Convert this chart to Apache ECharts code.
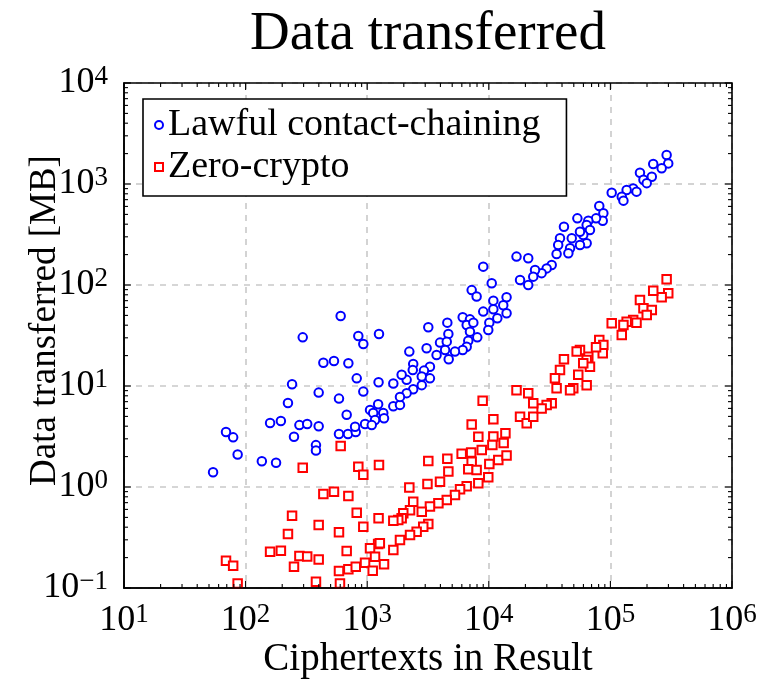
<!DOCTYPE html>
<html>
<head>
<meta charset="utf-8">
<script src="https://cdn.jsdelivr.net/npm/echarts@6/dist/echarts.min.js"></script>
<style>html,body{margin:0;padding:0;background:#fff;}#c{width:772px;height:680px;}</style>
</head>
<body>
<div id="c"></div>
<script>
// ---- data ----
const seriesNames = ['Lawful contact-chaining', 'Zero-crypto'];
const xTickValues = [10, 100, 1000, 10000, 100000, 1000000];
const yTickValues = [0.1, 1, 10, 100, 1000, 10000];

const blueX = [605,295,845,1250,929,436,533,700,820,1240,241,399,929,586,223,1230,1055,678,159,195,277,321,399,69,79,250,586,695,805,795,960,379,379,86,136,178,54,1640,1860,1120,1355,1160,1375,1090,
18070,21100,10570,7230,7940,14000,10900,13150,14000,9000,10900,11750,10100,9900,6100,7000,6580,7460,4560,3180,4650,7000,8040,3970,4510,6780,6580,6100,5270,4370,4680,2220,3080,3720,3280,2930,2810,2390,2370,2110,1920,3280,2810,2390,2110,1860,1640,
290000,299000,264000,225000,175000,187000,219000,199000,154000,136000,164000,124000,128000,102500,81000,87500,86500,76200,65800,63800,67900,59800,63800,56200,53500,41500,56200,48100,46600,45100,38500,37200,36100,32900,29900,27200,24000,23200,21100,16900,9000];
const blueY = [49.3,30.3,31.3,32.7,26.1,17.0,17.7,16.8,11.9,10.9,10.4,8.6,8.8,7.5,6.8,6.6,5.8,5.2,4.3,4.5,4.1,4.2,4.0,3.5,3.1,3.15,3.35,3.35,3.5,3.95,4.2,2.6,2.3,2.1,1.8,1.74,1.4,6.3,6.5,5.4,5.4,4.6,4.8,4.1,
112,100,104,89,77,75.5,70,63,52.5,54.5,57.5,46.8,42.4,35.8,47.9,45.7,40.2,42.4,42.4,38.1,32.7,34.5,30.3,26.9,27.5,28.1,24.5,22.7,21.9,22.7,18.4,21.9,23.6,20.3,15.5,14.2,12.4,16.5,14.4,11.5,12.9,11.9,10.2,9.3,8.5,7.8,10.6,
1940,1600,1430,1580,1290,1100,1180,1020,905,873,840,748,684,820,605,513,433,457,433,393,351,313,259,249,457,378,337,290,231,206,290,249,203,158,146,131,141,121,184,191,152];

const redX = [605,295,845,1250,929,436,533,700,820,1240,241,399,929,586,223,1230,1055,678,159,195,277,321,399,69,79,250,586,700,805,960,1110,379,86,597,1270,1160,1375,1860,1640,
8900,10900,7230,18070,20500,23200,8200,10900,13700,13250,10700,5980,7160,8750,7230,6780,10100,11970,14000,4560,3180,4650,7940,3970,3130,2220,9900,8200,6580,5800,5270,4510,3850,3280,2390,2250,1980,1920,1800,2810,3180,2890,2550,2250,1640,
290000,299000,264000,225000,175000,187000,219000,199000,154000,136000,164000,124000,128000,102500,81000,87500,86500,76200,65800,63800,67900,59800,56200,52800,41500,54400,63800,49500,46600,38500,35000,36100,32900,29900,27200,23200,21100,16900];
const redY = [2.55,1.55,1.59,1.65,1.32,0.853,0.897,0.815,0.557,0.49,0.52,0.42,0.405,0.356,0.343,0.273,0.247,0.232,0.229,0.234,0.207,0.205,0.192,0.186,0.166,0.162,0.147,0.153,0.162,0.178,0.148,0.115,0.111,0.111,0.277,0.204,0.172,0.299,0.238,
7.15,4.68,4.16,4.97,4.27,4.97,3.15,3.17,3.4,2.73,2.61,2.14,2.2,2.32,1.78,1.50,1.69,1.85,2.05,1.90,1.81,1.42,1.47,1.13,1.07,0.99,1.25,1.09,1.02,0.95,0.834,0.743,0.69,0.64,0.715,0.59,0.55,0.49,0.47,0.57,0.43,0.405,0.36,0.335,0.463,
114,82.8,75.5,87.9,71,58.7,56.5,50.5,45,43.3,42.4,32,40.2,41.8,28.5,25.5,21.1,24.2,19.5,18.1,15.5,16.8,22.7,21.9,18.4,12.9,10.2,9.5,9.1,14.4,11.9,9.5,6.75,6.5,6.0,6.75,8.5,9.1];

// ---- helpers ----
function pairs(xs, ys) { return xs.map((x, i) => [x, ys[i]]); }
function minorTicks(majors) {
  const out = [];
  for (let i = 0; i < majors.length - 1; i++) for (let m = 2; m <= 9; m++) out.push(+(majors[i] * m).toPrecision(3));
  return out;
}
const FONT = '"Liberation Serif", "DejaVu Serif", serif';
function expLabel(v) {
  const e = Math.round(Math.log10(v));
  const s = e < 0 ? '\u2212' + (-e) : String(e);
  return '{b|10}{s|' + s + '}';
}
const richLabel = {
  b: { fontFamily: FONT, fontSize: 36, color: '#000', lineHeight: 40 },
  s: { fontFamily: FONT, fontSize: 27, color: '#000', verticalAlign: 'top', lineHeight: 40, padding: [0, 0, 14, 0] }
};
const xMin = 10, xMax = 1000000, yMin = 0.1, yMax = 10000;
const MAJOR_LEN = 7, MINOR_LEN = 4;

const chart = echarts.init(document.getElementById('c'), null, { renderer: 'canvas' });
chart.setOption({
  animation: false,
  backgroundColor: '#fff',
  title: {
    text: 'Data transferred', left: 428, top: 7, padding: 0, textAlign: 'center',
    textStyle: { fontFamily: FONT, fontSize: 55, fontWeight: 'normal', color: '#000' }
  },
  grid: { left: 124, right: 40, top: 83, bottom: 92, containLabel: false, outerBoundsMode: 'none' },
  legend: {
    orient: 'vertical', left: 143, top: 99, z: 20,
    padding: [5, 26, 8, 11], itemGap: 0, itemWidth: 8, itemHeight: 8,
    backgroundColor: '#fff', borderColor: '#000', borderWidth: 1.6,
    textStyle: { fontFamily: FONT, fontSize: 38, color: '#000', lineHeight: 42 },
    data: seriesNames
  },
  xAxis: {
    type: 'log', logBase: 10, min: xMin, max: xMax, position: 'bottom',
    name: 'Ciphertexts in Result', nameLocation: 'middle', nameGap: 52, nameMoveOverlap: false,
    nameTextStyle: { fontFamily: FONT, fontSize: 39, color: '#000' },
    axisLine: { show: true, onZero: false, lineStyle: { color: '#000', width: 1.6 } },
    axisTick: { show: false },
    axisLabel: { show: true, customValues: xTickValues, formatter: expLabel, rich: richLabel, margin: 13 },
    splitLine: { show: true, lineStyle: { color: '#c9c9c9', width: 1.6, type: [6, 6] } }
  },
  yAxis: {
    type: 'log', logBase: 10, min: yMin, max: yMax, position: 'left',
    name: 'Data transferred [MB]', nameLocation: 'middle', nameGap: 60, nameMoveOverlap: false,
    nameTextStyle: { fontFamily: FONT, fontSize: 37, color: '#000', padding: [0, 0, 0, 30] },
    axisLine: { show: true, onZero: false, lineStyle: { color: '#000', width: 1.6 } },
    axisTick: { show: false },
    axisLabel: { show: true, customValues: yTickValues, formatter: expLabel, rich: richLabel, margin: 16 },
    splitLine: { show: true, lineStyle: { color: '#c9c9c9', width: 1.6, type: [6, 6] } }
  },
  series: [
    {
      name: seriesNames[0], type: 'scatter',
      symbol: 'emptyCircle', symbolSize: 8.5,
      itemStyle: { color: '#0000ff', borderColor: '#0000ff', borderWidth: 1.5, opacity: 1 },
      data: pairs(blueX, blueY), clip: true
    },
    {
      name: seriesNames[1], type: 'scatter',
      symbol: 'emptyRect', symbolSize: 8.5,
      itemStyle: { color: '#ff0000', borderColor: '#ff0000', borderWidth: 1.5, opacity: 1 },
      data: pairs(redX, redY), clip: true
    }
  ]
});

// frame and inward tick marks on all four sides, positioned through the chart's own log scales
const toPx = (p) => chart.convertToPixel({ gridIndex: 0 }, p);
const bl = toPx([xMin, yMin]), tr = toPx([xMax, yMax]);
const tickStyle = { stroke: '#000', lineWidth: 1.1 };
const els = [{
  type: 'rect', z: 10, silent: true,
  shape: { x: bl[0], y: tr[1], width: tr[0] - bl[0], height: bl[1] - tr[1] },
  style: { fill: null, stroke: '#000', lineWidth: 1.6 }
}];
function addXTick(v, len) {
  const x = toPx([v, yMin])[0];
  els.push({ type: 'line', z: 10, silent: true, shape: { x1: x, y1: bl[1], x2: x, y2: bl[1] - len }, style: tickStyle });
  els.push({ type: 'line', z: 10, silent: true, shape: { x1: x, y1: tr[1], x2: x, y2: tr[1] + len }, style: tickStyle });
}
function addYTick(v, len) {
  const y = toPx([xMin, v])[1];
  els.push({ type: 'line', z: 10, silent: true, shape: { x1: bl[0], y1: y, x2: bl[0] + len, y2: y }, style: tickStyle });
  els.push({ type: 'line', z: 10, silent: true, shape: { x1: tr[0], y1: y, x2: tr[0] - len, y2: y }, style: tickStyle });
}
xTickValues.forEach(v => addXTick(v, MAJOR_LEN));
minorTicks(xTickValues).forEach(v => addXTick(v, MINOR_LEN));
yTickValues.forEach(v => addYTick(v, MAJOR_LEN));
minorTicks(yTickValues).forEach(v => addYTick(v, MINOR_LEN));
chart.setOption({ graphic: { elements: els } });
</script>
</body>
</html>
